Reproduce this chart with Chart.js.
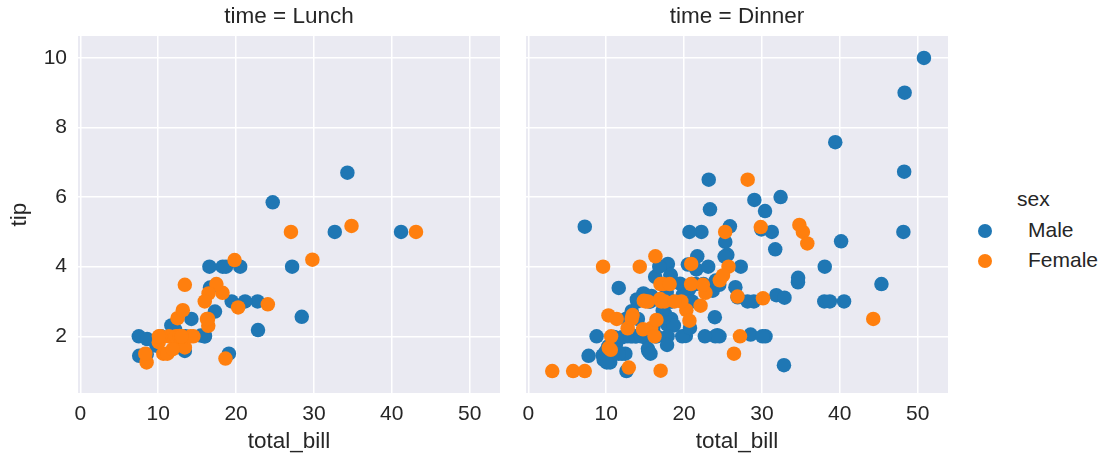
<!DOCTYPE html>
<html>
<head>
<meta charset="utf-8">
<script src="https://cdn.jsdelivr.net/npm/chart.js@4.4.1/dist/chart.umd.min.js"></script>
<style>
  body { margin: 0; background: #fff; width: 1107px; height: 459px; position: relative; overflow: hidden; }
  canvas { position: absolute; top: 0; }
  #lunch { left: 0; }
  #dinner { left: 510px; }
  .legend { position: absolute; font-family: "Liberation Sans", Arial, sans-serif; font-size: 21px; color: #262626; }
  .legend .title { position: absolute; left: 1017px; top: 187px; }
  .legend .dot { position: absolute; width: 14px; height: 14px; border-radius: 50%; }
  .legend .lbl { position: absolute; left: 1028px; }
</style>
</head>
<body>
<canvas id="lunch" width="510" height="459"></canvas>
<canvas id="dinner" width="450" height="459"></canvas>
<div class="legend">
  <div class="title">sex</div>
  <div class="dot" style="left:978px;top:224px;background:#1f77b4"></div>
  <div class="lbl" style="top:218px">Male</div>
  <div class="dot" style="left:978px;top:254px;background:#ff7f0e"></div>
  <div class="lbl" style="top:248px">Female</div>
</div>
<script>
// tips dataset, split by time (panel) and sex (hue)
let lunchMaleBill = [27.20, 22.76, 17.29, 19.44, 16.66, 32.68, 15.98, 13.03, 18.28, 24.71, 21.16, 11.69, 14.26, 15.95, 8.52, 22.82, 19.08, 16.00, 34.30, 41.19, 9.78, 7.51, 28.44, 15.48, 16.58, 7.56, 10.34, 13.51, 18.71, 20.53, 12.16, 8.58, 13.42];
let lunchMaleTip = [4.00, 3.00, 2.71, 3.00, 3.40, 5.00, 2.03, 2.00, 4.00, 5.85, 3.00, 2.31, 2.50, 2.00, 1.48, 2.18, 1.50, 2.00, 6.70, 5.00, 1.73, 2.00, 2.56, 2.02, 4.00, 1.44, 2.00, 2.00, 4.00, 4.00, 2.20, 1.92, 1.58];

let lunchFemaleBill = [10.07, 34.83, 10.65, 12.43, 24.08, 13.42, 12.48, 29.80, 14.52, 11.38, 20.27, 11.17, 12.26, 18.26, 8.51, 10.33, 14.15, 13.16, 17.47, 27.05, 16.43, 8.35, 18.64, 11.87, 19.81, 43.11, 13.00, 12.74, 13.00, 16.40, 16.47, 13.42, 15.98, 16.27, 10.09];
let lunchFemaleTip = [1.83, 5.17, 1.50, 1.80, 2.92, 1.68, 2.52, 4.20, 2.00, 2.00, 2.83, 1.50, 2.00, 3.25, 1.25, 2.00, 2.00, 2.75, 3.50, 5.00, 2.30, 1.50, 1.36, 1.63, 4.19, 5.00, 2.00, 2.01, 2.00, 2.50, 3.23, 3.48, 3.00, 2.50, 2.00];

let dinnerMaleBill = [10.34, 21.01, 23.68, 25.29, 8.77, 26.88, 15.04, 14.78, 10.27, 15.42, 18.43, 21.58, 16.29, 20.65, 17.92, 39.42, 19.82, 17.81, 13.37, 12.69,
  21.70, 9.55, 18.35, 17.78, 24.06, 16.31, 18.69, 31.27, 16.04, 17.46, 13.94, 9.68, 30.40, 18.29, 22.23, 32.40, 28.55, 18.04, 12.54, 9.94,
  25.56, 19.49, 38.01, 11.24, 48.27, 20.29, 13.81, 11.02, 18.29, 17.59, 20.08, 20.23, 15.01, 12.02, 10.51, 17.92, 28.97, 22.49, 40.17, 27.28,
  12.03, 21.01, 12.46, 15.36, 20.49, 25.21, 18.24, 14.00, 38.07, 23.95, 29.93, 14.07, 13.13, 17.26, 24.55, 19.77, 48.17, 16.49, 21.50, 12.66,
  13.81, 24.52, 20.76, 31.71, 50.81, 15.81, 7.25, 31.85, 16.82, 32.90, 17.89, 14.48, 34.63, 34.65, 23.33, 45.35, 23.17, 40.55, 20.69, 30.46,
  23.10, 15.69, 26.59, 38.73, 24.27, 30.06, 25.89, 48.33, 28.15, 11.59, 7.74, 20.45, 13.28, 24.01, 15.69, 11.61, 10.77, 15.53, 10.07, 12.60,
  32.83, 29.03, 22.67, 17.82];
let dinnerMaleTip = [1.66, 3.50, 3.31, 4.71, 2.00, 3.12, 1.96, 3.23, 1.71, 1.57, 3.00, 3.92, 3.71, 3.35, 4.08, 7.58, 3.18, 2.34, 2.00, 2.00,
  4.30, 1.45, 2.50, 3.27, 3.60, 2.00, 2.31, 5.00, 2.24, 2.54, 3.06, 1.32, 5.60, 3.00, 5.00, 6.00, 2.05, 3.00, 2.50, 1.56,
  4.34, 3.51, 3.00, 1.76, 6.73, 3.21, 2.00, 1.98, 3.76, 2.64, 3.15, 2.01, 2.09, 1.97, 1.25, 3.08, 3.00, 3.50, 4.73, 4.00,
  1.50, 3.00, 1.50, 1.64, 4.06, 4.29, 3.76, 3.00, 4.00, 2.55, 5.07, 2.50, 2.00, 2.74, 2.00, 2.00, 5.00, 2.00, 3.50, 2.50,
  2.00, 3.48, 2.24, 4.50, 10.00, 3.16, 5.15, 3.18, 4.00, 3.11, 2.00, 2.00, 3.55, 3.68, 5.65, 3.50, 6.50, 3.00, 5.00, 2.00,
  4.00, 1.50, 3.41, 3.00, 2.03, 2.00, 5.16, 9.00, 3.00, 1.50, 1.44, 3.00, 2.72, 2.00, 3.00, 3.39, 1.47, 3.00, 1.25, 1.00,
  1.17, 5.92, 2.00, 1.75];

let dinnerFemaleBill = [16.99, 24.59, 35.26, 14.83, 10.33, 16.97, 20.29, 15.77, 19.65, 15.06, 20.69, 16.93, 10.29, 34.81, 26.41, 16.45, 3.07, 17.07, 26.86, 25.28,
  14.73, 5.75, 16.32, 22.75, 11.35, 15.38, 44.30, 22.42, 20.92, 14.31, 7.25, 25.71, 17.31, 29.85, 25.00, 13.39, 16.21, 17.51, 10.59, 10.63,
  9.60, 20.90, 18.15, 12.76, 13.27, 28.17, 12.90, 30.14, 22.12, 35.83, 27.18, 18.78];
let dinnerFemaleTip = [1.01, 3.61, 5.00, 3.02, 1.67, 3.50, 2.75, 2.23, 3.00, 3.00, 2.45, 3.07, 2.60, 5.20, 1.50, 2.47, 1.00, 3.00, 3.14, 5.00,
  2.20, 1.00, 4.30, 3.25, 2.50, 3.00, 2.50, 3.48, 4.08, 4.00, 1.00, 4.00, 3.50, 5.14, 3.75, 2.61, 2.00, 3.00, 1.61, 2.00,
  4.00, 3.50, 3.50, 2.23, 2.50, 6.50, 1.10, 3.09, 2.88, 4.67, 2.00, 3.00];

let xTicks = [0, 10, 20, 30, 40, 50];
let yTicks = [2, 4, 6, 8, 10];

const FONT = '"Liberation Sans", Arial, sans-serif';
const TEXT = '#262626';

function pts(xs, ys) {
    return xs.map((x, i) => ({x: x, y: ys[i]}));
}

const panelBg = {
    id: 'panelBg',
    beforeDraw(chart) {
        const {ctx, chartArea: a} = chart;
        ctx.save();
        ctx.fillStyle = '#eaeaf2';
        ctx.fillRect(a.left, a.top, a.right - a.left, a.bottom - a.top);
        ctx.restore();
    }
};

function makeChart(id, title, maleB, maleT, femB, femT, showY, padRight) {
    return new Chart(document.getElementById(id).getContext('2d'), {
        type: 'scatter',
        data: {
            datasets: [{
                label: 'Male',
                data: pts(maleB, maleT),
                backgroundColor: '#1f77b4',
                pointRadius: 7.25,
                pointBorderWidth: 0,
                order: 2
            }, {
                label: 'Female',
                data: pts(femB, femT),
                backgroundColor: '#ff7f0e',
                pointRadius: 7.25,
                pointBorderWidth: 0,
                order: 1
            }]
        },
        options: {
            responsive: false,
            animation: false,
            events: [],
            layout: {padding: {left: 0, right: padRight, top: 0, bottom: 0}},
            plugins: {
                legend: {display: false},
                tooltip: {enabled: false},
                title: {
                    display: true,
                    fullSize: false,
                    text: title,
                    color: TEXT,
                    font: {family: FONT, size: 22.5, weight: 'normal', lineHeight: 1.2},
                    padding: {top: 3.5, bottom: 5.5}
                }
            },
            scales: {
                x: {
                    type: 'linear',
                    min: -0.3,
                    max: 53.9,
                    afterBuildTicks: s => { s.ticks = xTicks.map(v => ({value: v})); },
                    afterFit: s => { s.height = 66; },
                    border: {display: false},
                    grid: {color: '#ffffff', lineWidth: 1.5, drawTicks: false},
                    ticks: {color: TEXT, padding: 9, font: {family: FONT, size: 21}},
                    title: {
                        display: true,
                        text: 'total_bill',
                        color: TEXT,
                        font: {family: FONT, size: 22.5, lineHeight: 1.2},
                        padding: {top: 0, bottom: 3.5}
                    }
                },
                y: {
                    type: 'linear',
                    min: 0.37,
                    max: 10.63,
                    afterBuildTicks: s => { s.ticks = yTicks.map(v => ({value: v})); },
                    afterFit: s => { s.width = showY ? 78 : 16; },
                    border: {display: false},
                    grid: {color: '#ffffff', lineWidth: 1.5, drawTicks: false},
                    ticks: {display: showY, color: TEXT, padding: 11, font: {family: FONT, size: 21}},
                    title: {
                        display: showY,
                        text: 'tip',
                        color: TEXT,
                        font: {family: FONT, size: 22.5, lineHeight: 1.2},
                        padding: {top: 6.5, bottom: 0}
                    }
                }
            }
        },
        plugins: [panelBg]
    });
}

let chart1 = makeChart('lunch', 'time = Lunch', lunchMaleBill, lunchMaleTip, lunchFemaleBill, lunchFemaleTip, true, 10);
let chart2 = makeChart('dinner', 'time = Dinner', dinnerMaleBill, dinnerMaleTip, dinnerFemaleBill, dinnerFemaleTip, false, 12);
</script>
</body>
</html>
